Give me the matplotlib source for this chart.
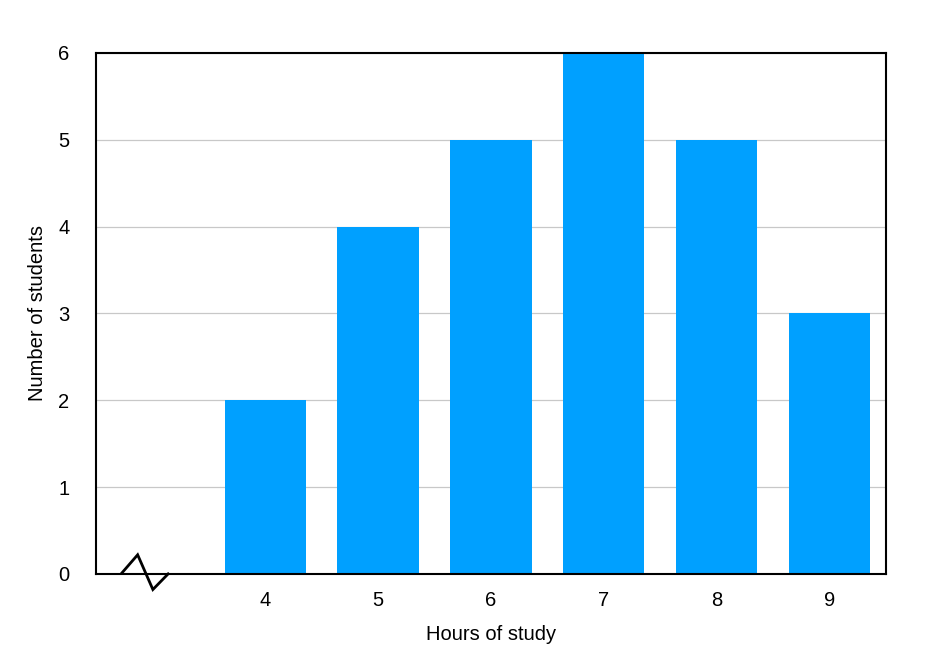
import matplotlib
matplotlib.use("Agg")
import matplotlib.pyplot as plt

hours = [4, 5, 6, 7, 8, 9]
students = [2, 4, 5, 6, 5, 3]
y_ticks = [0, 1, 2, 3, 4, 5, 6]

plt.rcParams['font.family'] = ['Liberation Sans', 'DejaVu Sans']

fig = plt.figure(figsize=(9.4, 6.65), dpi=100)
ax = fig.add_axes([0.102, 0.137, 0.8406, 0.7835])

ax.bar(hours, students, width=0.72, color='#00A0FF', zorder=2)

ax.set_xlim(2.5, 9.5)
ax.set_ylim(0, 6)
ax.set_xticks(hours)
ax.set_yticks(y_ticks)
ax.tick_params(axis='both', length=0, labelsize=14.5)
ax.tick_params(axis='x', pad=12)
ax.tick_params(axis='y', pad=19)
ax.yaxis.grid(True, color='#c8c8c8', linewidth=0.9, zorder=0)
ax.set_axisbelow(True)
for s in ax.spines.values():
    s.set_linewidth(1.5)
    s.set_color('black')

ax.set_xlabel('Hours of study', fontsize=14.5, labelpad=11)
ax.set_ylabel('Number of students', fontsize=14.5, labelpad=8)

# axis break zigzag near the origin
zx = [2.73, 2.87, 3.005, 3.14]
zy = [0.01, 0.22, -0.18, 0.0]
ax.plot(zx, zy, color='black', linewidth=2.0, clip_on=False, zorder=5,
        solid_joinstyle='miter')

fig.savefig('out.png', dpi=100)
